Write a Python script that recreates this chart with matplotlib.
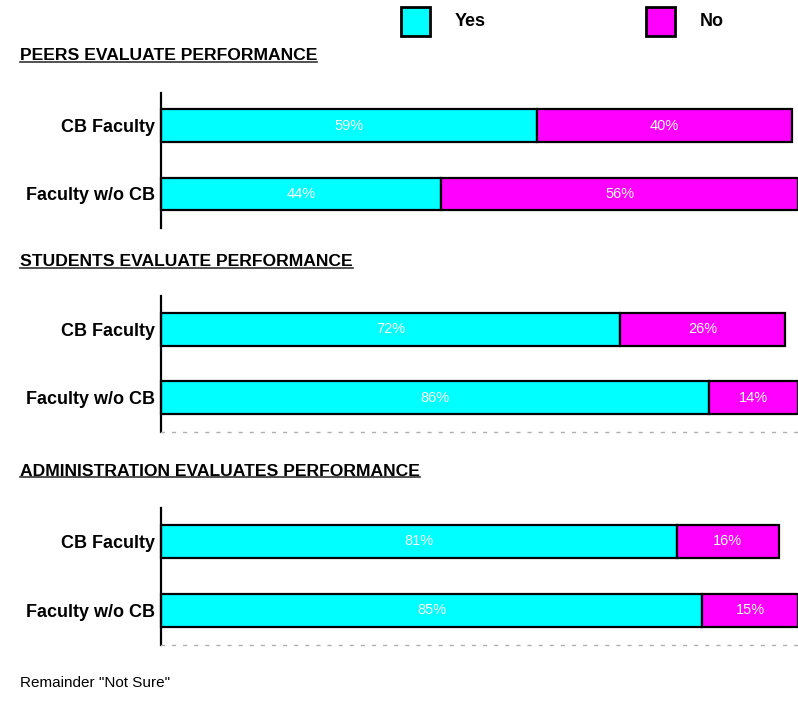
import matplotlib
matplotlib.use('Agg')
import matplotlib.pyplot as plt
from matplotlib.patches import Rectangle
from matplotlib.lines import Line2D

plt.rcParams['font.family'] = ['Liberation Sans Narrow', 'Liberation Sans', 'DejaVu Sans']

panel_titles = ['PEERS EVALUATE PERFORMANCE',
                'STUDENTS EVALUATE PERFORMANCE',
                'ADMINISTRATION EVALUATES PERFORMANCE']
groups = ['CB Faculty', 'Faculty w/o CB']
yes_vals = [[59, 44], [72, 86], [81, 85]]
no_vals = [[40, 56], [26, 14], [16, 15]]
series = ['Yes', 'No']
footnote = 'Remainder "Not Sure"'

YES_COLOR = '#00ffff'
NO_COLOR = '#ff00ff'

W, H = 798, 706
fig = plt.figure(figsize=(W / 100, H / 100), dpi=100)


def fx(px):
    return px / W


def fy(py):
    return 1 - py / H


# pixel positions: top of axis line, bottom of axis line, title centre
panel_layout = [(93, 228, 56), (296, 432, 262), (508, 645, 471)]
dashed = [False, True, True]

title_texts = []
for i, (top, bottom, title_y) in enumerate(panel_layout):
    ax = fig.add_axes([fx(161), fy(bottom), fx(637), (bottom - top) / H])
    ypos = [0, 1]
    ax.barh(ypos, yes_vals[i], height=0.485, color=YES_COLOR,
            edgecolor='black', linewidth=1.6, clip_on=False)
    ax.barh(ypos, no_vals[i], left=yes_vals[i], height=0.485, color=NO_COLOR,
            edgecolor='black', linewidth=1.6, clip_on=False)
    for y, yv, nv in zip(ypos, yes_vals[i], no_vals[i]):
        ax.text(yv / 2, y, f'{yv}%', color='white', ha='center', va='center', fontsize=10.5)
        ax.text(yv + nv / 2, y, f'{nv}%', color='white', ha='center', va='center', fontsize=10.5)
    ax.set_xlim(0, 100)
    ax.set_ylim(1.5, -0.485)
    ax.set_yticks(ypos)
    ax.set_yticklabels(groups, fontsize=13, fontweight='bold')
    ax.tick_params(axis='y', length=0, pad=4)
    ax.set_xticks([])
    for s in ['top', 'right']:
        ax.spines[s].set_visible(False)
    ax.spines['left'].set_linewidth(1.6)
    if dashed[i]:
        ax.spines['bottom'].set_color('#b0b0b0')
        ax.spines['bottom'].set_linewidth(1.0)
        ax.spines['bottom'].set_linestyle((0, (2, 6)))
    else:
        ax.spines['bottom'].set_visible(False)
    t = fig.text(fx(20), fy(title_y), panel_titles[i], fontsize=12.6, fontweight='bold',
                 ha='left', va='center')
    title_texts.append(t)

# legend
for px, label, color in [(401, series[0], YES_COLOR), (646, series[1], NO_COLOR)]:
    fig.patches.append(Rectangle((fx(px), fy(36)), fx(29), 29 / H, facecolor=color,
                                 edgecolor='black', linewidth=2, transform=fig.transFigure))
    fig.text(fx(px + 54), fy(22), label, fontsize=13, fontweight='bold', ha='left', va='center')

fig.text(fx(20), fy(683), footnote, fontsize=11, ha='left', va='center')

# underline the panel titles
fig.canvas.draw()
renderer = fig.canvas.get_renderer()
for t in title_texts:
    bb = t.get_window_extent(renderer).transformed(fig.transFigure.inverted())
    fig.lines.append(Line2D([bb.x0, bb.x1], [bb.y0 + 0.002, bb.y0 + 0.002], color='#333333',
                            linewidth=1.2, transform=fig.transFigure))

fig.savefig('out.png', dpi=100)
